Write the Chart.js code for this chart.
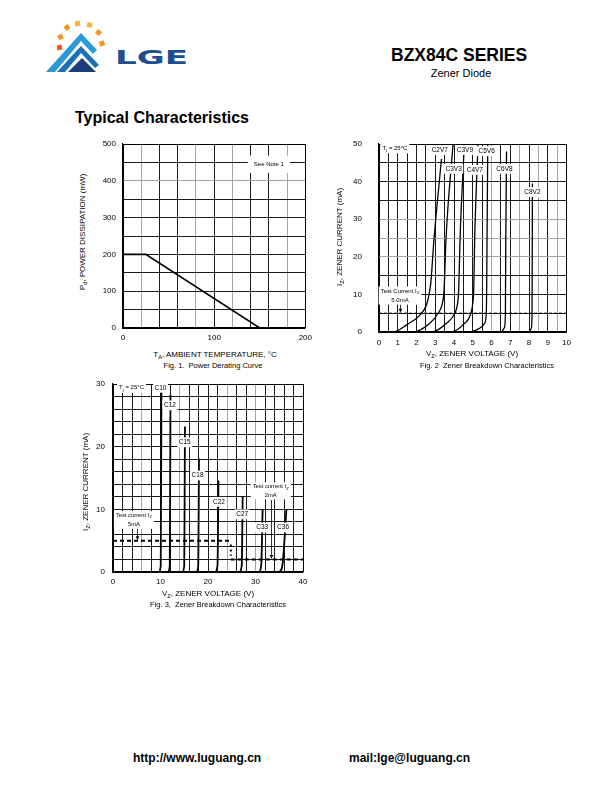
<!DOCTYPE html>
<html><head><meta charset="utf-8">
<script src="https://cdn.jsdelivr.net/npm/chart.js@4.4.0/dist/chart.umd.min.js"></script>
<style>
body{margin:0;background:#fff;}
#page{position:relative;width:612px;height:792px;overflow:hidden;font-family:"Liberation Sans",Arial,Helvetica,sans-serif;color:#000;}
.t{position:absolute;white-space:nowrap;line-height:1;}
.c{transform:translate(-50%,-50%);}
.r{transform:translate(-50%,-50%) rotate(-90deg);}
canvas{position:absolute;}
sub{font-size:72%;vertical-align:-2px;line-height:0;}
</style></head>
<body><div id="page">
<svg class="t" style="left:40px;top:18px" width="160" height="62" viewBox="40 18 160 62">
  <g>
    <rect x="57" y="45" width="5" height="5" fill="#f15a24" transform="rotate(-10 59.5 47.5)"/>
    <rect x="58" y="34.5" width="5" height="5" fill="#f7931e" transform="rotate(-25 60.5 37)"/>
    <rect x="64.5" y="25" width="5" height="5" fill="#f7931e" transform="rotate(-40 67 27.5)"/>
    <rect x="75" y="21" width="5" height="5" fill="#fbb03b" transform="rotate(-10 77.5 23.5)"/>
    <rect x="87" y="22.5" width="5" height="5" fill="#fbb03b" transform="rotate(15 89.5 25)"/>
    <rect x="96" y="30" width="5" height="5" fill="#f7931e" transform="rotate(40 98.5 32.5)"/>
    <rect x="99.5" y="41" width="5" height="5" fill="#f7931e" transform="rotate(70 102 43.5)"/>
  </g>
  <polygon points="46,72 81,33 97,50 93,54 81,41 55,72" fill="#2a9ad6"/>
  <polygon points="57,72 81,46 99,65 95,68 81,53 65,72" fill="#1b6fb5"/>
  <polygon points="68,72 82,58 96,72" fill="#1c3f7a"/>
  <text x="115" y="64" font-family="DejaVu Sans" font-weight="bold" font-size="19" fill="#1d4f8f" textLength="73" lengthAdjust="spacingAndGlyphs">LGE</text>
</svg>
<div class="t" style="left:391px;top:47px;font-size:17.5px;font-weight:bold;">BZX84C SERIES</div>
<div class="t c" style="left:461px;top:73px;font-size:11px;">Zener Diode</div>
<div class="t" style="left:75px;top:110px;font-size:16px;font-weight:bold;">Typical Characteristics</div>

<canvas id="c1" width="229" height="214" style="left:88px;top:134px"></canvas>
<canvas id="c2" width="233" height="218" style="left:344px;top:134px"></canvas>
<canvas id="c3" width="235" height="218" style="left:78px;top:374px"></canvas>

<div class="t r" style="left:83px;top:232px;font-size:8px;">P<sub>d</sub>, POWER DISSIPATION (mW)</div>
<div class="t c" style="left:215px;top:355px;font-size:8px;">T<sub>A</sub>, AMBIENT TEMPERATURE, °C</div>
<div class="t c" style="left:213px;top:366px;font-size:7.5px;">Fig. 1.&nbsp; Power Derating Curve</div>

<div class="t r" style="left:340px;top:237px;font-size:8px;">I<sub>Z</sub>, ZENER CURRENT (mA)</div>
<div class="t c" style="left:472px;top:354px;font-size:8px;">V<sub>Z</sub>, ZENER VOLTAGE (V)</div>
<div class="t c" style="left:487px;top:366px;font-size:7.5px;">Fig. 2&nbsp; Zener Breakdown Characteristics</div>

<div class="t r" style="left:86px;top:482px;font-size:8px;">I<sub>Z</sub>, ZENER CURRENT (mA)</div>
<div class="t c" style="left:208px;top:594px;font-size:8px;">V<sub>Z</sub>, ZENER VOLTAGE (V)</div>
<div class="t c" style="left:218px;top:605px;font-size:7.5px;">Fig. 3,&nbsp; Zener Breakdown Characteristics</div>

<div class="t" style="left:133px;top:752px;font-size:12px;font-weight:bold;">http://www.luguang.cn</div>
<div class="t" style="left:349px;top:752px;font-size:12px;font-weight:bold;">mail:lge@luguang.cn</div>
</div>
<script>
// ---------- Fig. 1 data ----------
const fig1Temp = [0, 25, 150];
const fig1Power = [200, 200, 0];
const fig1XLabels = [0, 100, 200];
const fig1YLabels = [0, 100, 200, 300, 400, 500];

// ---------- Fig. 2 data ----------
const fig2Names = ['C2V7', 'C3V3', 'C3V9', 'C4V7', 'C5V6', 'C6V8', 'C8V2'];
const c2v7V = [0, 0.76, 1.47, 2.18, 2.53, 2.68, 2.76, 2.93, 3.33];
const c2v7I = [0, 0, 1.9, 4.5, 7.2, 10.3, 13, 24.5, 46];
const c3v3V = [0, 1.82, 2.71, 3.15, 3.38, 3.47, 3.57, 3.95];
const c3v3I = [0, 0, 2.3, 5, 7.6, 11.2, 24.5, 50];
const c3v9V = [0, 2.8, 3.6, 4.04, 4.19, 4.25, 4.32, 4.55];
const c3v9I = [0, 0, 2.3, 5, 7.6, 11.2, 24.5, 50];
const c4v7V = [0, 3.77, 4.48, 4.9, 5.0, 5.05, 5.1, 5.28];
const c4v7I = [0, 0, 1.9, 5, 7.6, 11.2, 24.5, 50];
const c5v6V = [0, 4.83, 5.36, 5.63, 5.72, 5.74, 5.76, 5.8];
const c5v6I = [0, 0, 1, 2.3, 5, 11.2, 24.5, 50];
const c6v8V = [0, 6.5, 6.69, 6.74, 6.76, 6.8];
const c6v8I = [0, 0, 1.2, 5, 24.5, 48];
const c8v2V = [0, 8.0, 8.12, 8.16, 8.18];
const c8v2I = [0, 0, 1, 5, 39.5];
const fig2LabelV = [3.24, 3.98, 4.58, 5.11, 5.74, 6.69, 8.18];
const fig2LabelI = [48.4, 43.4, 48.4, 43.1, 48.1, 43.4, 37.2];
const fig2TestV = [0, 10];
const fig2TestI = [5, 5];
const fig2XLabels = [0, 1, 2, 3, 4, 5, 6, 7, 8, 9, 10];
const fig2YLabels = [0, 10, 20, 30, 40, 50];

// ---------- Fig. 3 data ----------
const fig3Names = ['C10', 'C12', 'C15', 'C18', 'C22', 'C27', 'C33', 'C36'];
const c10V = [0, 9.6, 10.05, 10.2];   const c10I = [0, 0, 1, 30];
const c12V = [0, 11.5, 11.95, 12.1];  const c12I = [0, 0, 1, 28.3];
const c15V = [0, 14.6, 15.0, 15.15];  const c15I = [0, 0, 1, 23.2];
const c18V = [0, 17.5, 17.95, 18.1];  const c18I = [0, 0, 1, 18.1];
const c22V = [0, 21.5, 22.0, 22.2];   const c22I = [0, 0, 1, 14.6];
const c27V = [0, 26.6, 27.1, 27.3];   const c27I = [0, 0, 1, 12.1];
const c33V = [0, 30.7, 31.2, 31.5];   const c33I = [0, 0, 1, 10];
const c36V = [0, 34.8, 35.5, 35.8, 36.5]; const c36I = [0, 0, 0.5, 2, 9.9];
const fig3LabelV = [10.0, 12.0, 15.1, 17.8, 22.3, 27.2, 31.4, 35.8];
const fig3LabelI = [29.4, 26.6, 20.7, 15.4, 11.2, 9.2, 7.1, 7.1];
const fig3Test5V = [0, 24.8];  const fig3Test5I = [5, 5];
const fig3DropV = [24.8, 24.8]; const fig3DropI = [4.4, 2.6];
const fig3Test2V = [24.8, 40]; const fig3Test2I = [2, 2];
const fig3XLabels = [0, 10, 20, 30, 40];
const fig3YLabels = [0, 10, 20, 30];

// ---------- helpers ----------
const F = '"Liberation Sans", Arial, Helvetica, sans-serif';
function pts(xs, ys) { return xs.map((x, i) => ({ x: x, y: ys[i] })); }
function range(a, b, s) { const r = []; for (let v = a; v <= b + 1e-9; v += s) r.push(+v.toFixed(6)); return r; }

function axis(o) {
  const vals = range(o.min, o.max, o.step);
  return {
    type: 'linear', min: o.min, max: o.max,
    afterBuildTicks: s => { s.ticks = vals.map(v => ({ value: v })); },
    afterFit: s => { if (o.isY) s.width = o.fit; else s.height = o.fit; },
    ticks: {
      autoSkip: false, maxRotation: 0, padding: o.isY ? 0 : o.pad, color: '#000',
      font: { family: F, size: 8 },
      callback: v => o.labels.some(l => Math.abs(l - v) < 1e-6) ? String(Math.round(v)) : ''
    },
    grid: {
      drawTicks: !!o.isY, tickLength: o.isY ? o.pad : 0, tickColor: 'rgba(0,0,0,0)', lineWidth: 1,
      color: c => (c.index === 0 || c.index === vals.length - 1) ? '#000' :
        (o.grays.includes(c.index) ? '#a4a4a4' : '#1a1a1a')
    },
    border: { color: '#000', width: 1.2 }
  };
}

function partsWidth(ctx, parts, size) {
  let w = 0;
  parts.forEach(p => { ctx.font = (p[1] ? size * 0.72 : size) + 'px ' + F; w += ctx.measureText(p[0]).width; });
  return w;
}
function drawParts(ctx, parts, x, y, size) {
  ctx.textBaseline = 'middle'; ctx.textAlign = 'left'; ctx.fillStyle = '#000';
  parts.forEach(p => {
    const s = p[1] ? size * 0.72 : size;
    ctx.font = s + 'px ' + F;
    ctx.fillText(p[0], x, p[1] ? y + size * 0.3 : y);
    x += ctx.measureText(p[0]).width;
  });
}

const notesPlugin = {
  id: 'notes',
  afterDatasetsDraw(chart, args, opts) {
    const ctx = chart.ctx, xs = chart.scales.x, ys = chart.scales.y;
    ctx.save();
    (opts.arrows || []).forEach(a => {
      const x = Math.round(xs.getPixelForValue(a.x)) + 0.5;
      const y1 = ys.getPixelForValue(a.from), y2 = ys.getPixelForValue(a.to);
      ctx.strokeStyle = '#000'; ctx.lineWidth = 0.8;
      ctx.beginPath(); ctx.moveTo(x, y1); ctx.lineTo(x, y2 - 2); ctx.stroke();
      ctx.fillStyle = '#000';
      ctx.beginPath(); ctx.moveTo(x - 1.8, y2 - 4.5); ctx.lineTo(x + 1.8, y2 - 4.5); ctx.lineTo(x, y2 - 0.5); ctx.closePath(); ctx.fill();
    });
    (opts.boxes || []).forEach(b => {
      const cx = xs.getPixelForValue(b.x);
      const cys = b.ys.map(v => ys.getPixelForValue(v));
      const widths = b.lines.map(l => partsWidth(ctx, l, b.size));
      const w = Math.max(...widths) + 2 * b.padX;
      const top = Math.min(...cys) - b.size * 0.6 - b.padY;
      const bot = Math.max(...cys) + b.size * 0.6 + b.padY;
      ctx.fillStyle = '#fff';
      ctx.fillRect(cx - w / 2, top, w, bot - top);
      b.lines.forEach((l, i) => drawParts(ctx, l, cx - widths[i] / 2, cys[i], b.size));
    });
    ctx.restore();
  }
};

function line(xs, ys, width, extra) {
  return Object.assign({ data: pts(xs, ys), showLine: true, pointRadius: 0, borderColor: '#000',
    backgroundColor: '#000', borderWidth: width, fill: false }, extra || {});
}

function baseOptions(xa, ya, notes) {
  return {
    responsive: false, animation: false,
    layout: { padding: { top: 10, right: 10, left: 0, bottom: 0 } },
    plugins: { legend: { display: false }, tooltip: { enabled: false }, notes: notes },
    scales: { x: xa, y: ya }
  };
}

// ---------- Fig. 1 ----------
new Chart(document.getElementById('c1'), {
  type: 'scatter',
  data: { datasets: [line(fig1Temp, fig1Power, 1.6)] },
  options: baseOptions(
    axis({ min: 0, max: 200, step: 20, labels: fig1XLabels, grays: [1, 4, 6, 9], pad: 5, fit: 20 }),
    axis({ min: 0, max: 500, step: 50, labels: fig1YLabels, grays: [8], pad: 7, fit: 35, isY: true }),
    { boxes: [{ lines: [[['See Note 1']]], x: 160, ys: [445], size: 6, padX: 6, padY: 5 }] }
  ),
  plugins: [notesPlugin]
});

// ---------- Fig. 2 ----------
const fig2Curves = [[c2v7V, c2v7I], [c3v3V, c3v3I], [c3v9V, c3v9I], [c4v7V, c4v7I], [c5v6V, c5v6I], [c6v8V, c6v8I], [c8v2V, c8v2I]];
const fig2Sets = fig2Curves.map(c => line(c[0], c[1], 1.3, { cubicInterpolationMode: 'monotone' }));
fig2Sets.push(line(fig2TestV, fig2TestI, 1, { borderDash: [3, 2] }));
const fig2Boxes = fig2Names.map((n, i) => ({ lines: [[[n]]], x: fig2LabelV[i], ys: [fig2LabelI[i]], size: 6.5, padX: 1.5, padY: 1 }));
fig2Boxes.push({ lines: [[['T'], ['j', 1], [' = 25°C']]], x: 0.85, ys: [48.9], size: 6, padX: 2, padY: 1.5 });
fig2Boxes.push({ lines: [[['Test Current I'], ['Z', 1]], [['5.0mA']]], x: 1.12, ys: [10.9, 8.5], size: 6, padX: 2, padY: 1 });
new Chart(document.getElementById('c2'), {
  type: 'scatter',
  data: { datasets: fig2Sets },
  options: baseOptions(
    axis({ min: 0, max: 10, step: 0.5, labels: fig2XLabels, grays: [12, 15, 17, 19], pad: 6, fit: 20 }),
    axis({ min: 0, max: 50, step: 5, labels: fig2YLabels, grays: [4, 5, 6], pad: 17, fit: 35, isY: true }),
    { arrows: [{ x: 1.12, from: 7.6, to: 5 }], boxes: fig2Boxes }
  ),
  plugins: [notesPlugin]
});

// ---------- Fig. 3 ----------
const fig3Curves = [[c10V, c10I], [c12V, c12I], [c15V, c15I], [c18V, c18I], [c22V, c22I], [c27V, c27I], [c33V, c33I], [c36V, c36I]];
const fig3Sets = fig3Curves.map(c => line(c[0], c[1], 1.8, { cubicInterpolationMode: 'monotone' }));
fig3Sets.push(line(fig3Test5V, fig3Test5I, 2, { borderDash: [4, 3] }));
fig3Sets.push(line(fig3DropV, fig3DropI, 2, { borderDash: [2, 3] }));
fig3Sets.push(line(fig3Test2V, fig3Test2I, 2, { borderDash: [4, 3] }));
const fig3Boxes = fig3Names.map((n, i) => ({ lines: [[[n]]], x: fig3LabelV[i], ys: [fig3LabelI[i]], size: 6.5, padX: 1.5, padY: 1 }));
fig3Boxes.push({ lines: [[['T'], ['j', 1], [' = 25°C']]], x: 3.9, ys: [29.4], size: 6, padX: 2, padY: 1.5 });
fig3Boxes.push({ lines: [[['Test current I'], ['Z', 1]], [['5mA']]], x: 4.4, ys: [9.0, 7.6], size: 5.8, padX: 2, padY: 1 });
fig3Boxes.push({ lines: [[['Test current I'], ['Z', 1]], [['2mA']]], x: 33.2, ys: [13.6, 12.3], size: 5.8, padX: 2, padY: 1 });
new Chart(document.getElementById('c3'), {
  type: 'scatter',
  data: { datasets: fig3Sets },
  options: baseOptions(
    axis({ min: 0, max: 40, step: 2, labels: fig3XLabels, grays: [3, 7, 12, 15], pad: 5, fit: 20 }),
    axis({ min: 0, max: 30, step: 2, labels: fig3YLabels, grays: [], pad: 8, fit: 35, isY: true }),
    { arrows: [{ x: 5.1, from: 7.0, to: 5 }, { x: 33.3, from: 11.5, to: 2 }], boxes: fig3Boxes }
  ),
  plugins: [notesPlugin]
});
</script>
</body></html>
